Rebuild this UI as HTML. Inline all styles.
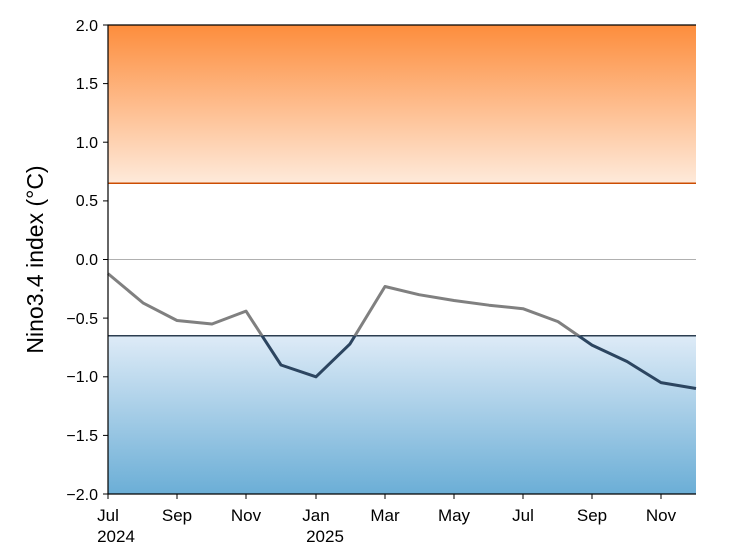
<!DOCTYPE html>
<html><head><style>body{margin:0;background:#fff}svg{display:block}</style></head><body>
<svg width="739" height="560" xmlns="http://www.w3.org/2000/svg" font-family="Liberation Sans, sans-serif">
<defs>
<linearGradient id="og" x1="0" y1="0" x2="0" y2="1"><stop offset="0" stop-color="#fd8d3c"/><stop offset="1" stop-color="#feeadb"/></linearGradient>
<linearGradient id="bg" x1="0" y1="0" x2="0" y2="1"><stop offset="0" stop-color="#deebf7"/><stop offset="1" stop-color="#6baed6"/></linearGradient>
<clipPath id="above"><rect x="100" y="0" width="610" height="335.7"/></clipPath>
<clipPath id="below"><rect x="100" y="335.7" width="610" height="200"/></clipPath>
</defs>
<rect x="108" y="25" width="588" height="158.3" fill="url(#og)"/>
<rect x="108" y="335.7" width="588" height="158.3" fill="url(#bg)"/>
<line x1="108" x2="696" y1="259.5" y2="259.5" stroke="#b0b0b0" stroke-width="1"/>
<line x1="108" x2="696" y1="183.3" y2="183.3" stroke="#cc4c02" stroke-width="1.5"/>
<line x1="108" x2="696" y1="335.7" y2="335.7" stroke="#2c3e50" stroke-width="1.5"/>
<g fill="none" stroke-width="3" stroke-linejoin="round">
<polyline clip-path="url(#above)" stroke="#808080" points="108,273.6 143,302.9 177,320.5 212,324 246,311.1 281,365 316,376.8 350,343.9 385,286.5 419,294.7 454,300.5 489,305.2 523,308.7 558,321.6 592,345.1 627,361.5 661,382.6 696,388.5"/>
<polyline clip-path="url(#below)" stroke="#2c4560" points="108,273.6 143,302.9 177,320.5 212,324 246,311.1 281,365 316,376.8 350,343.9 385,286.5 419,294.7 454,300.5 489,305.2 523,308.7 558,321.6 592,345.1 627,361.5 661,382.6 696,388.5"/>
</g>
<g stroke="#000" stroke-width="1.2" fill="none"><polyline points="696,25 108,25 108,494 696,494"/></g>
<g font-size="16" fill="#000" text-anchor="end">
<text x="98" y="31">2.0</text><text x="98" y="89">1.5</text><text x="98" y="148">1.0</text><text x="98" y="206">0.5</text><text x="98" y="265">0.0</text><text x="98" y="324">−0.5</text><text x="98" y="382">−1.0</text><text x="98" y="441">−1.5</text><text x="98" y="500">−2.0</text>
</g>
<g stroke="#000"><line x1="103" x2="108" y1="25" y2="25"/><line x1="103" x2="108" y1="83.6" y2="83.6"/><line x1="103" x2="108" y1="142.2" y2="142.2"/><line x1="103" x2="108" y1="200.9" y2="200.9"/><line x1="103" x2="108" y1="259.5" y2="259.5"/><line x1="103" x2="108" y1="318.1" y2="318.1"/><line x1="103" x2="108" y1="376.8" y2="376.8"/><line x1="103" x2="108" y1="435.4" y2="435.4"/><line x1="103" x2="108" y1="494" y2="494"/>
<line x1="108" x2="108" y1="494" y2="499"/><line x1="177" x2="177" y1="494" y2="499"/><line x1="246" x2="246" y1="494" y2="499"/><line x1="316" x2="316" y1="494" y2="499"/><line x1="385" x2="385" y1="494" y2="499"/><line x1="454" x2="454" y1="494" y2="499"/><line x1="523" x2="523" y1="494" y2="499"/><line x1="592" x2="592" y1="494" y2="499"/><line x1="661" x2="661" y1="494" y2="499"/></g>
<g font-size="17" fill="#000" text-anchor="middle">
<text x="108" y="521">Jul</text><text x="116" y="542">2024</text><text x="177" y="521">Sep</text><text x="246" y="521">Nov</text><text x="316" y="521">Jan</text><text x="325" y="542">2025</text><text x="385" y="521">Mar</text><text x="454" y="521">May</text><text x="523" y="521">Jul</text><text x="592" y="521">Sep</text><text x="661" y="521">Nov</text>
</g>
<text transform="translate(43,259.5) rotate(-90)" font-size="23" text-anchor="middle" fill="#000">Nino3.4 index (°C)</text>
</svg>
</body></html>
